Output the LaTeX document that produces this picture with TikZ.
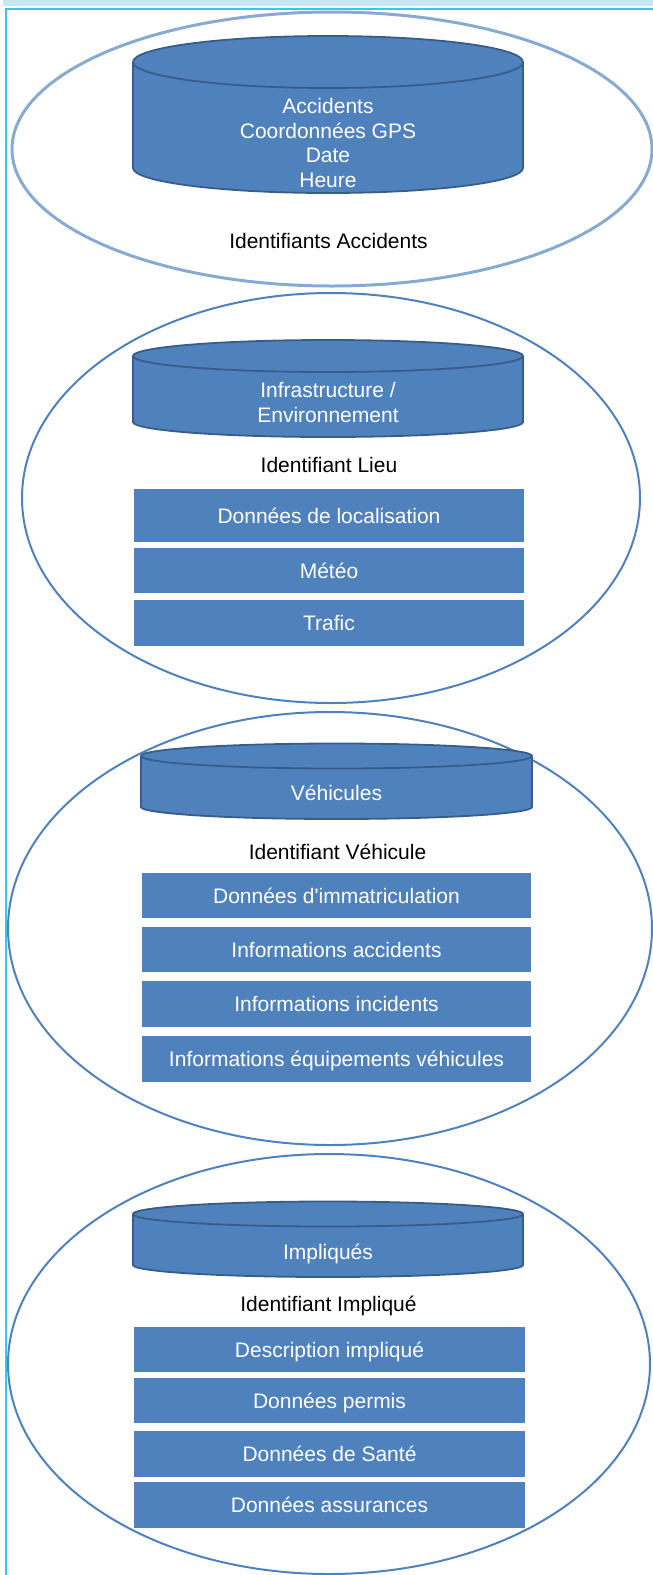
\documentclass[tikz,border=0pt]{standalone}
\usepackage{fontspec}
\setmainfont{Liberation Sans}[Ligatures=TeXOff]
\usetikzlibrary{shapes.geometric}
\definecolor{boxblue}{RGB}{79,129,189}
\definecolor{cylborder}{RGB}{56,93,138}
\definecolor{lightring}{RGB}{135,170,210}
\definecolor{bandc}{RGB}{200,230,240}
\definecolor{framecyan}{RGB}{50,200,240}
\newcommand\mycyl[6]{%
  \pgfmathsetmacro\cylrx{(#2-#1)/2}%
  \filldraw[cylstyle] (#1,#3) -- (#1,#5)
    arc[start angle=180,end angle=360,x radius=\cylrx pt,y radius=#6pt]
    -- (#2,#3)
    arc[start angle=0,end angle=180,x radius=\cylrx pt,y radius=#4pt] -- cycle;
  \draw[cylstyle,fill=none] (#1,#3)
    arc[start angle=180,end angle=360,x radius=\cylrx pt,y radius=#4pt];
}
\tikzset{
  ring/.style={draw=boxblue, line width=2pt, ellipse, inner sep=0pt, outer sep=0pt},
  ringlight/.style={draw=lightring, line width=3pt, ellipse, inner sep=0pt, outer sep=0pt},
  cylstyle/.style={fill=boxblue, draw=cylborder, line width=1.8pt},
  txt/.style={inner sep=0pt, font=\fontsize{21pt}{24.4pt}\selectfont},
  lbl/.style={txt, text height=15pt, text depth=0pt},
  cyltext/.style={lbl, text=white},
  cylmulti/.style={txt, text=white, align=center},
  datarow/.style={lbl, text=white, fill=boxblue, minimum width=390pt, minimum height=45pt},
  idtext/.style={lbl, text=black},
}
\begin{document}
\begin{tikzpicture}[x=1pt,y=-1pt]
\useasboundingbox (0,0) rectangle (653,1575);
% frame
\fill[bandc] (3,0) rectangle (653,5.7);
\draw[framecyan, line width=2.2pt] (5,8.8) -- (653,8.8);
\draw[framecyan, line width=2pt] (6,8) -- (6,1575);

% rings
\node[ringlight, minimum width=640pt, minimum height=274pt] (e1) at (332,149) {};
\node[ring, minimum width=618pt, minimum height=410pt] (e2) at (331,498) {};
\node[ring, minimum width=644pt, minimum height=433pt] (e3) at (330,928.5) {};
\node[ring, minimum width=642pt, minimum height=420pt] (e4) at (329,1364) {};

% group 1
\mycyl{133}{523}{62}{26}{168}{25}
\node[cylmulti] (c1) at (328,143) {Accidents\\Coordonnées GPS\\Date\\Heure};
\node[idtext] (id1) at (328.5,241) {Identifiants Accidents};

% group 2
\mycyl{133}{523}{356}{16}{422}{15}
\node[cylmulti] (c2) at (328,402.4) {Infrastructure /\\Environnement};
\node[idtext] (id2) at (329,464.5) {Identifiant Lieu};
\node[datarow, minimum height=53pt] (r21) at (329,515.5) {Données de localisation};
\node[datarow] (r22) at (329,570.5) {Météo};
\node[datarow, minimum height=46pt] (r23) at (329,623) {Trafic};

% group 3
\mycyl{141}{532}{756}{12.5}{807}{12}
\node[cyltext] (c3) at (336.5,792.5) {Véhicules};
\node[idtext] (id3) at (337.5,852) {Identifiant Véhicule};
\node[datarow, minimum width=389pt] (r31) at (336.5,895.5) {Données d'immatriculation};
\node[datarow, minimum width=389pt] (r32) at (336.5,949.5) {Informations accidents};
\node[datarow, minimum width=389pt, minimum height=46pt] (r33) at (336.5,1004) {Informations incidents};
\node[datarow, minimum width=389pt, minimum height=46pt] (r34) at (336.5,1059) {Informations équipements véhicules};

% group 4
\mycyl{133}{523}{1214}{12.5}{1265}{12}
\node[cyltext] (c4) at (328,1251.5) {Impliqués};
\node[idtext] (id4) at (328.5,1303.5) {Identifiant Impliqué};
\node[datarow, minimum width=391pt] (r41) at (329.5,1349.5) {Description impliqué};
\node[datarow, minimum width=391pt] (r42) at (329.5,1400.5) {Données permis};
\node[datarow, minimum width=391pt, minimum height=46pt] (r43) at (329.5,1454) {Données de Santé};
\node[datarow, minimum width=391pt, minimum height=46pt] (r44) at (329.5,1505) {Données assurances};
\end{tikzpicture}
\end{document}
